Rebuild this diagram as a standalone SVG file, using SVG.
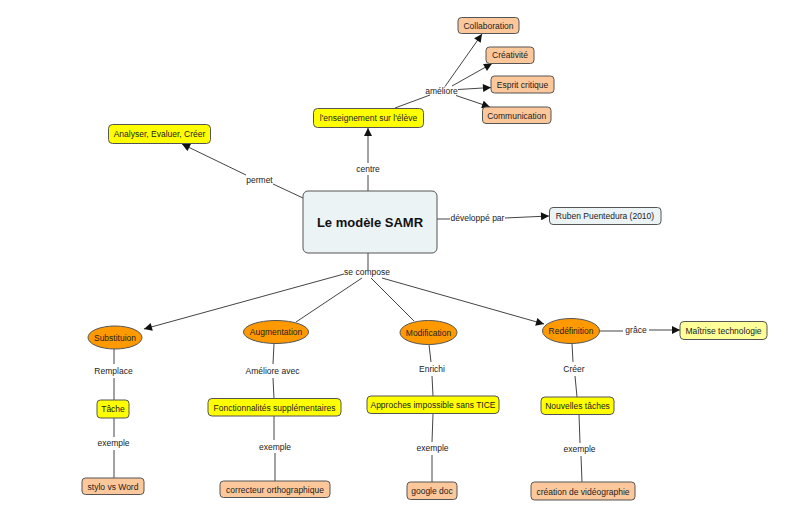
<svg xmlns="http://www.w3.org/2000/svg" width="800" height="521" viewBox="0 0 800 521">
<style>
text{font-family:"Liberation Sans",Arial,sans-serif;font-size:8.5px;fill:#222;text-anchor:middle}
.t{font-size:13px;font-weight:bold;fill:#111}
.n rect,.n ellipse{stroke:#555;stroke-width:1}
.y{fill:#ffff00}.p{fill:#fcc89b}.o{fill:#ff9900}.g{fill:#ecf3f5}.ly{fill:#ffff99}
#connectors line{stroke:#444;stroke-width:1;fill:none}
</style>
<defs>
<marker id="ah" viewBox="0 0 10 10" refX="10" refY="5" markerWidth="9" markerHeight="8" markerUnits="userSpaceOnUse" orient="auto">
<path d="M0,0 L10,5 L0,10 z" fill="#111"/>
</marker>
</defs>
<rect width="800" height="521" fill="#fff"/>
<g id="connectors">
<line x1="303" y1="198" x2="273" y2="184"/>
<line x1="246" y1="175" x2="182" y2="144" marker-end="url(#ah)"/>
<line x1="368" y1="191" x2="368" y2="175"/>
<line x1="368" y1="163" x2="368" y2="128" marker-end="url(#ah)"/>
<line x1="437" y1="219" x2="450" y2="219"/>
<line x1="505" y1="218" x2="549" y2="216" marker-end="url(#ah)"/>
<line x1="395" y1="108" x2="430" y2="95"/>
<line x1="445" y1="86.5" x2="482" y2="34" marker-end="url(#ah)"/>
<line x1="452" y1="86" x2="492" y2="63.5" marker-end="url(#ah)"/>
<line x1="458" y1="89.5" x2="491" y2="87.5" marker-end="url(#ah)"/>
<line x1="456" y1="95.5" x2="490" y2="107" marker-end="url(#ah)"/>
<line x1="368" y1="253" x2="368" y2="270"/>
<line x1="344" y1="274" x2="144" y2="329" marker-end="url(#ah)"/>
<line x1="362" y1="278" x2="296" y2="322"/>
<line x1="371" y1="278" x2="414" y2="321"/>
<line x1="382" y1="278" x2="544" y2="324" marker-end="url(#ah)"/>
<line x1="600" y1="331" x2="623" y2="331"/>
<line x1="649" y1="330" x2="680" y2="330" marker-end="url(#ah)"/>
<line x1="114" y1="349" x2="114" y2="364"/>
<line x1="114" y1="378" x2="114" y2="400"/>
<line x1="114" y1="418" x2="114" y2="437"/>
<line x1="114" y1="450" x2="114" y2="478"/>
<line x1="274" y1="343.5" x2="273" y2="364"/>
<line x1="273" y1="378" x2="274" y2="398.5"/>
<line x1="274" y1="416" x2="274" y2="440"/>
<line x1="275" y1="453" x2="275" y2="481"/>
<line x1="429" y1="344.5" x2="431" y2="362"/>
<line x1="432" y1="376" x2="433" y2="396"/>
<line x1="433" y1="413.5" x2="432" y2="442"/>
<line x1="432" y1="455" x2="432" y2="482"/>
<line x1="572" y1="343.5" x2="573" y2="362"/>
<line x1="575" y1="376" x2="577" y2="397"/>
<line x1="579" y1="414.5" x2="580" y2="443"/>
<line x1="581" y1="456" x2="582" y2="482"/>
</g>
<g id="labels">
<text x="259.5" y="183">permet</text>
<text x="368" y="172">centre</text>
<text x="477.5" y="221">développé par</text>
<text x="441.5" y="94">améliore</text>
<text x="367" y="275">se compose</text>
<text x="113.5" y="374">Remplace</text>
<text x="272.5" y="374">Améliore avec</text>
<text x="432" y="372">Enrichi</text>
<text x="574" y="372">Créer</text>
<text x="636" y="333">grâce</text>
<text x="113.5" y="446">exemple</text>
<text x="275" y="449.5">exemple</text>
<text x="432.5" y="451">exemple</text>
<text x="579.5" y="452">exemple</text>
</g>
<g id="n-center" class="n"><rect class="g" x="303" y="191" width="134" height="62" rx="5"/><text class="t" x="370" y="226.5">Le modèle SAMR</text></g>
<g id="n-enseignement" class="n"><rect class="y" x="313.5" y="108.5" width="110" height="19" rx="4"/><text x="368.5" y="121">l'enseignement sur l'élève</text></g>
<g id="n-collaboration" class="n"><rect class="p" x="458" y="17.5" width="61" height="16" rx="3.5"/><text x="488.5" y="28.5">Collaboration</text></g>
<g id="n-creativite" class="n"><rect class="p" x="486" y="47" width="48" height="16.5" rx="3.5"/><text x="510" y="58">Créativité</text></g>
<g id="n-esprit" class="n"><rect class="p" x="491" y="76" width="63" height="17" rx="3.5"/><text x="522.5" y="87.5">Esprit critique</text></g>
<g id="n-communication" class="n"><rect class="p" x="482.5" y="107" width="68.5" height="16.5" rx="3.5"/><text x="516.7" y="118.5">Communication</text></g>
<g id="n-analyser" class="n"><rect class="y" x="108.5" y="124.5" width="102" height="19" rx="4"/><text x="159.5" y="137">Analyser, Evaluer, Créer</text></g>
<g id="n-ruben" class="n"><rect class="g" x="549.5" y="207.5" width="111.5" height="17" rx="3.5"/><text x="605" y="219">Ruben Puentedura (2010)</text></g>
<g id="n-substituion" class="n"><ellipse class="o" cx="115" cy="337.5" rx="27" ry="11.5"/><text x="115" y="340.5">Substituion</text></g>
<g id="n-augmentation" class="n"><ellipse class="o" cx="276" cy="332" rx="32.5" ry="11.5"/><text x="276" y="335">Augmentation</text></g>
<g id="n-modification" class="n"><ellipse class="o" cx="428.5" cy="332.5" rx="28.5" ry="12"/><text x="428.5" y="335.5">Modification</text></g>
<g id="n-redefinition" class="n"><ellipse class="o" cx="571" cy="331" rx="28.5" ry="12.5"/><text x="571" y="334">Redéfinition</text></g>
<g id="n-maitrise" class="n"><rect class="ly" x="680" y="321.5" width="87" height="18" rx="4"/><text x="723.5" y="333.5">Maîtrise technologie</text></g>
<g id="n-tache" class="n"><rect class="y" x="97" y="400" width="32" height="18" rx="3.5"/><text x="113" y="412">Tâche</text></g>
<g id="n-fonct" class="n"><rect class="y" x="208" y="398.5" width="133" height="17.5" rx="4"/><text x="274.5" y="410.5">Fonctionnalités supplémentaires</text></g>
<g id="n-approches" class="n"><rect class="y" x="367" y="396" width="132" height="17.5" rx="4"/><text x="433" y="408">Approches impossible sans TICE</text></g>
<g id="n-nouvelles" class="n"><rect class="y" x="541" y="397" width="73" height="17.5" rx="4"/><text x="577.5" y="409">Nouvelles tâches</text></g>
<g id="n-stylo" class="n"><rect class="p" x="82" y="478" width="62" height="16.5" rx="3.5"/><text x="113" y="489.5">stylo vs Word</text></g>
<g id="n-correcteur" class="n"><rect class="p" x="220" y="481" width="110" height="16.5" rx="3.5"/><text x="275" y="492.5">correcteur orthographique</text></g>
<g id="n-google" class="n"><rect class="p" x="407" y="482" width="50" height="17.5" rx="3.5"/><text x="432" y="494">google doc</text></g>
<g id="n-creation" class="n"><rect class="p" x="531" y="482" width="104" height="18" rx="3.5"/><text x="583" y="494.5">création de vidéographie</text></g>
</svg>
